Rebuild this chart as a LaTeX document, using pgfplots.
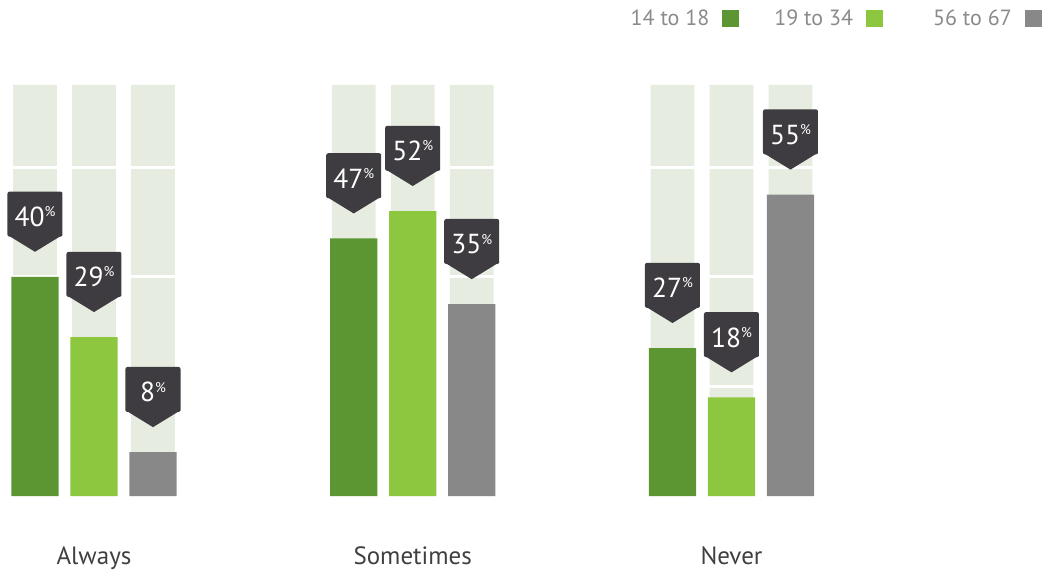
\documentclass[border=0pt]{standalone}
\usepackage{pgfplots}
\pgfplotsset{compat=1.18}
\usepackage{fontspec}
\setmainfont{PT Sans}
\usetikzlibrary{calc}
\definecolor{dgreen}{HTML}{5C9632}
\definecolor{lgreen}{HTML}{8DC63F}
\definecolor{greyb}{HTML}{888888}
\definecolor{bgbar}{HTML}{E6ECDF}
\definecolor{callout}{HTML}{3E3C40}
\definecolor{labtext}{HTML}{404040}
\definecolor{legtext}{HTML}{8A8A8A}
\begin{document}
\begin{tikzpicture}
\begin{axis}[
  scale only axis, width=1048pt, height=496pt,
  xmin=-0.2949, xmax=2.993, ymin=0, ymax=90.51,
  axis line style={draw=none}, major tick length=0pt,
  ytick=\empty, xtick={0,1,2},
  xticklabels={Always,Sometimes,Never},
  xticklabel style={font=\fontsize{25}{25}\selectfont, text=labtext, anchor=base, yshift=-68pt},
  clip=false,
  /pgf/number format/assume math mode=true,
  ybar, bar width=0.1475,
  legend plot pos=right,
  legend columns=3,
  legend image code/.code={\fill[#1] (0pt,-8.5pt) rectangle (17pt,8.5pt);},
  legend style={at={(rel axis cs:1,1)}, anchor=north east, xshift=-6pt, yshift=-8pt,
    draw=none, fill=none, inner sep=0pt, font=\fontsize{22}{22}\selectfont, text=legtext,
    /tikz/every even column/.append style={column sep=33pt},
    /tikz/every odd column/.append style={column sep=11pt}},
  every node near coord/.append style={
    anchor=south, yshift=40pt, minimum width=55pt, minimum height=45pt, inner sep=0pt,
    text height=25pt, text depth=0pt,
    fill=callout, rounded corners=2pt, text=white, font=\fontsize{27.5}{27.5}\selectfont,
    append after command={\pgfextra{\fill[callout, sharp corners] ([yshift=2pt]\tikzlastnode.south west) -- ([yshift=2pt]\tikzlastnode.south east) -- ([yshift=-15pt]\tikzlastnode.south) -- cycle;}}
  },
  callouts/.style={nodes near coords={\pgfmathprintnumber{\pgfplotspointmeta}\raisebox{0.36em}{\fontsize{14}{14}\selectfont\%}}},
]
% background columns
\addplot[fill=bgbar, draw=none, bar width=0.138, bar shift=-0.1851, forget plot] coordinates {(0,75) (1,75) (2,75)};
\addplot[fill=bgbar, draw=none, bar width=0.138, bar shift=0, forget plot] coordinates {(0,75) (1,75) (2,75)};
\addplot[fill=bgbar, draw=none, bar width=0.138, bar shift=0.1851, forget plot] coordinates {(0,75) (1,75) (2,75)};
\draw[white, line width=3pt] (axis cs:-0.3,20) -- (axis cs:2.9,20);
\draw[white, line width=3pt] (axis cs:-0.3,40) -- (axis cs:2.9,40);
\draw[white, line width=3pt] (axis cs:-0.3,60) -- (axis cs:2.9,60);
% data
\addplot[fill=dgreen, draw=none, bar shift=-0.1851, callouts] coordinates {(0,40) (1,47) (2,27)};
\addplot[fill=lgreen, draw=none, bar shift=0, callouts] coordinates {(0,29) (1,52) (2,18)};
\addplot[fill=greyb, draw=none, bar shift=0.1851, callouts] coordinates {(0,8) (1,35) (2,55)};
\legend{14 to 18, 19 to 34, \hspace*{15pt}56 to 67}
\end{axis}
\pgfresetboundingbox
\path[use as bounding box] (current axis.north west) rectangle ($(current axis.south east)+(0,-76pt)$);
\end{tikzpicture}
\end{document}
